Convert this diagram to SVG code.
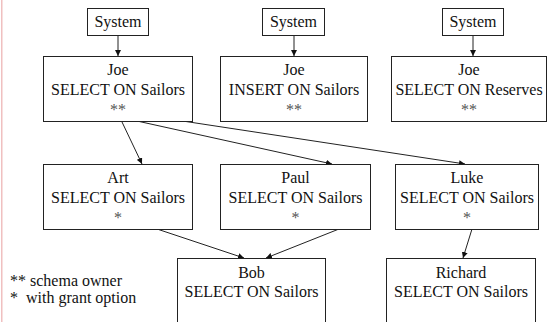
<svg xmlns="http://www.w3.org/2000/svg" width="548" height="322" viewBox="0 0 548 322">
<defs>
<style>
.box{fill:#fff;stroke:#222;stroke-width:1}
text{font-family:"Times New Roman",Times,"Liberation Serif","Noto Serif","DejaVu Serif",serif;font-size:16px;fill:#111}
.t{text-anchor:middle}
.star{fill:#555}
.c{stroke:#222;stroke-width:1;fill:none;marker-end:url(#ah)}
</style>
<marker id="ah" viewBox="0 0 10 10" refX="10" refY="5" markerWidth="6" markerHeight="6" markerUnits="userSpaceOnUse" orient="auto">
<path d="M0,0 L10,5 L0,10 z" fill="#111"/>
</marker>
</defs>
<rect x="0" y="0" width="548" height="322" fill="#fff"/>
<rect x="1" y="0" width="1.5" height="322" fill="#f0c0c0"/>

<g id="connectors">
<line class="c" x1="118" y1="35" x2="118" y2="56"/>
<line class="c" x1="294" y1="35" x2="294" y2="56"/>
<line class="c" x1="473" y1="35" x2="473" y2="56"/>
<line class="c" x1="122" y1="122" x2="142" y2="164"/>
<line class="c" x1="137" y1="121" x2="332" y2="164"/>
<line class="c" x1="176" y1="120" x2="465" y2="164"/>
<line class="c" x1="157" y1="229" x2="244" y2="258"/>
<line class="c" x1="339" y1="229" x2="266" y2="258"/>
<line class="c" x1="472" y1="229" x2="463" y2="258"/>
</g>

<g id="sys1"><rect class="box" x="87.5" y="8.5" width="61" height="27"/><text class="t" x="118" y="27">System</text></g>
<g id="sys2"><rect class="box" x="262.5" y="8.5" width="62" height="27"/><text class="t" x="293.5" y="27">System</text></g>
<g id="sys3"><rect class="box" x="442.5" y="8.5" width="61" height="27"/><text class="t" x="473" y="27">System</text></g>

<g id="joe1"><rect class="box" x="43.5" y="56.5" width="149" height="65"/>
<text class="t" x="118" y="75">Joe</text><text class="t" x="118" y="95">SELECT ON Sailors</text><text class="t star" x="118" y="115">**</text></g>
<g id="joe2"><rect class="box" x="220.5" y="56.5" width="147" height="65"/>
<text class="t" x="294" y="75">Joe</text><text class="t" x="294" y="95">INSERT ON Sailors</text><text class="t star" x="294" y="115">**</text></g>
<g id="joe3"><rect class="box" x="391.5" y="56.5" width="155" height="65"/>
<text class="t" x="469" y="75">Joe</text><text class="t" x="469" y="95">SELECT ON Reserves</text><text class="t star" x="469" y="115">**</text></g>

<g id="art"><rect class="box" x="43.5" y="164.5" width="149" height="65"/>
<text class="t" x="118" y="183">Art</text><text class="t" x="118" y="203">SELECT ON Sailors</text><text class="t star" x="118" y="223">*</text></g>
<g id="paul"><rect class="box" x="220.5" y="164.5" width="150" height="65"/>
<text class="t" x="295.5" y="183">Paul</text><text class="t" x="295.5" y="203">SELECT ON Sailors</text><text class="t star" x="295.5" y="223">*</text></g>
<g id="luke"><rect class="box" x="395.5" y="164.5" width="143" height="65"/>
<text class="t" x="467" y="183">Luke</text><text class="t" x="467" y="203">SELECT ON Sailors</text><text class="t star" x="467" y="223">*</text></g>

<g id="bob"><rect class="box" x="177.5" y="258.5" width="148" height="80"/>
<text class="t" x="251.5" y="278">Bob</text><text class="t" x="251.5" y="297">SELECT ON Sailors</text></g>
<g id="richard"><rect class="box" x="386.5" y="258.5" width="149" height="80"/>
<text class="t" x="461" y="278">Richard</text><text class="t" x="461" y="297">SELECT ON Sailors</text></g>

<g id="legend">
<text x="10" y="286">** schema owner</text>
<text x="10" y="303">*<tspan x="26">with grant option</tspan></text>
</g>
</svg>
